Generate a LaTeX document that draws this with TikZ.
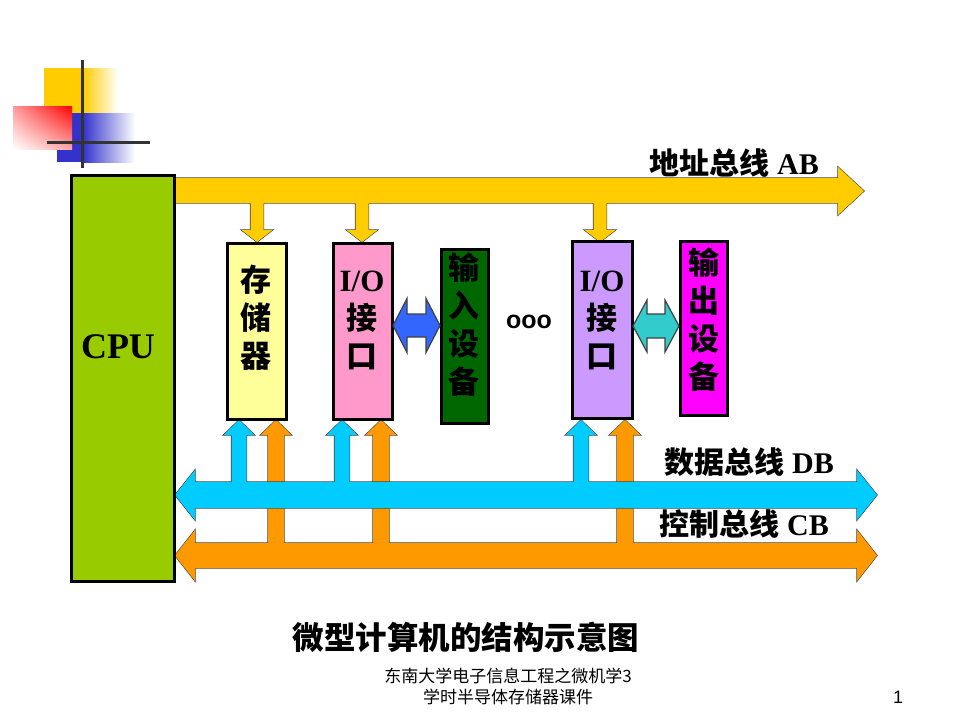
\documentclass[tikz,border=0pt]{standalone}
\usepackage{fontspec}
\usetikzlibrary{shadings}
\setmainfont{Liberation Serif}
\newfontfamily\cjk{Noto Sans CJK SC}
\newfontfamily\arialf{Liberation Sans}
\definecolor{abY}{HTML}{FFCC00}
\definecolor{dbC}{HTML}{00CCFF}
\definecolor{cbO}{HTML}{FF9900}
\definecolor{blueA}{HTML}{3366FF}
\definecolor{tealA}{HTML}{33CCCC}
\definecolor{cpuG}{HTML}{99CC00}
\definecolor{memY}{HTML}{FFFF99}
\definecolor{ioP}{HTML}{FF99CC}
\definecolor{inG}{HTML}{006600}
\definecolor{ioV}{HTML}{CC99FF}
\definecolor{outM}{HTML}{FF00FF}
\definecolor{logoY}{HTML}{FFCC00}
\definecolor{logoB}{HTML}{3333CC}
\definecolor{logoL}{HTML}{333333}
\def\mydown#1{(#1-6.5,195) -- (#1+6.5,195) -- (#1+6.5,230) -- (#1+15.5,230) -- (#1,242) -- (#1-15.5,230) -- (#1-6.5,230) -- cycle}
\def\myup#1#2#3{(#1-#3,#2) -- (#1-#3,435) -- (#1-15.5,435) -- (#1,420) -- (#1+15.5,435) -- (#1+#3,435) -- (#1+#3,#2) -- cycle}
\def\mydbl#1#2#3#4#5#6{(#1,#3) -- (#1+#6,#3-#5) -- (#1+#6,#3-#4) -- (#2-#6,#3-#4) -- (#2-#6,#3-#5) -- (#2,#3) -- (#2-#6,#3+#5) -- (#2-#6,#3+#4) -- (#1+#6,#3+#4) -- (#1+#6,#3+#5) -- cycle}
\tikzset{
  boxst/.style={draw=black, line width=3pt, minimum width=#1, inner sep=0pt},
  arrout/.style={draw=black!75, line width=1.2pt},
  boxtext/.style={align=center, font=\fontsize{31}{38}\selectfont\bfseries, inner sep=0pt},
  buslabel/.style={anchor=east, font=\fontsize{30}{32}\selectfont\bfseries, inner sep=0pt}
}
\begin{document}
\begin{tikzpicture}[x=1pt,y=-1pt]
\useasboundingbox (0,0) rectangle (960,720);
\fill[white] (0,0) rectangle (960,720);
% logo
\fill[logoY] (44,68) rectangle (83.5,113);
\shade[left color=logoY, right color=white] (83,68) rectangle (118,113);
\fill[logoB] (57,113) rectangle (83.5,162);
\shade[left color=logoB, right color=white] (83,113) rectangle (135,162);
\shade[upper right=red, lower left=white, upper left=red!40, lower right=red!35] (13,106) rectangle (72,149);
\draw[logoL, line width=3pt] (82,60) -- (82,168);
\draw[logoL, line width=3pt] (47,142) -- (150,142);
% address bus
\path[fill=abY, arrout] (174,178) -- (838,178) -- (838,167) -- (864,191) -- (838,215) -- (838,203) -- (174,203) -- cycle \mydown{257} \mydown{362} \mydown{600};
\fill[abY] (174,178) -- (838,178) -- (838,167) -- (864,191) -- (838,215) -- (838,203) -- (174,203) -- cycle \mydown{257} \mydown{362} \mydown{600};
% control bus
\path[fill=cbO, arrout] \mydbl{175}{877}{555.5}{12.5}{25.5}{20} \myup{276}{555}{8} \myup{381}{555}{8} \myup{625}{555}{8};
\fill[cbO] \mydbl{175}{877}{555.5}{12.5}{25.5}{20} \myup{276}{555}{8} \myup{381}{555}{8} \myup{625}{555}{8};
% data bus
\path[fill=dbC, arrout] \mydbl{175}{877}{495}{13}{25}{20} \myup{239}{495}{7.5} \myup{342}{495}{7.5} \myup{581}{495}{7.5};
\fill[dbC] \mydbl{175}{877}{495}{13}{25}{20} \myup{239}{495}{7.5} \myup{342}{495}{7.5} \myup{581}{495}{7.5};
% boxes
\node[boxst=103pt, minimum height=406pt, fill=cpuG] (cpu) at (122.5,378) {};
\node[font=\fontsize{36}{40}\selectfont\bfseries] (cputxt) at (118,347) {CPU};
\node[boxst=59pt, minimum height=176pt, fill=memY] (mem) at (256.5,331) {};
\node[boxst=59pt, minimum height=176pt, fill=ioP] (ioa) at (362.5,331) {};
\node[boxst=47pt, minimum height=174pt, fill=inG] (inp) at (464.5,336) {};
\node[boxst=60pt, minimum height=177pt, fill=ioV] (iob) at (602,329.5) {};
\node[boxst=47pt, minimum height=174pt, fill=outM] (outp) at (703.5,328) {};
% side arrows
\path[fill=blueA, arrout] \mydbl{393}{440}{325.5}{11.5}{27}{14};
\path[fill=tealA, arrout] \mydbl{633}{679}{326}{12}{26}{14};
% box texts
\node[boxtext] (memtxt) at (256,318) {\cjk 存\\\cjk 储\\\cjk 器};
\node[boxtext] (ioatxt) at (362,320) {I/O\\\cjk 接\\\cjk 口};
\node[boxtext] (inptxt) at (464,325) {\cjk 输\\\cjk 入\\\cjk 设\\\cjk 备};
\node[boxtext] (iobtxt) at (602,320) {I/O\\\cjk 接\\\cjk 口};
\node[boxtext] (outtxt) at (704,320) {\cjk 输\\\cjk 出\\\cjk 设\\\cjk 备};
\node[font=\arialf\fontsize{25}{27}\selectfont\bfseries, inner sep=0pt] (dots) at (529,322) {ooo};
% bus labels
\node[buslabel] (ablbl) at (819,163) {{\cjk 地址总线} AB};
\node[buslabel] (dblbl) at (834,462) {{\cjk 数据总线} DB};
\node[buslabel] (cblbl) at (829,524) {{\cjk 控制总线} CB};
% caption & footer
\node[font=\cjk\fontsize{31.5}{33}\selectfont\bfseries, inner sep=0pt] (cap) at (466,637) {微型计算机的结构示意图};
\node[font=\cjk\fontsize{17}{21}\selectfont, align=center, inner sep=0pt] (foot) at (508,686.5) {东南大学电子信息工程之微机学3\\学时半导体存储器课件};
\node[font=\arialf\fontsize{18}{20}\selectfont, inner sep=0pt] (pg) at (898,697) {1};
\end{tikzpicture}
\end{document}
